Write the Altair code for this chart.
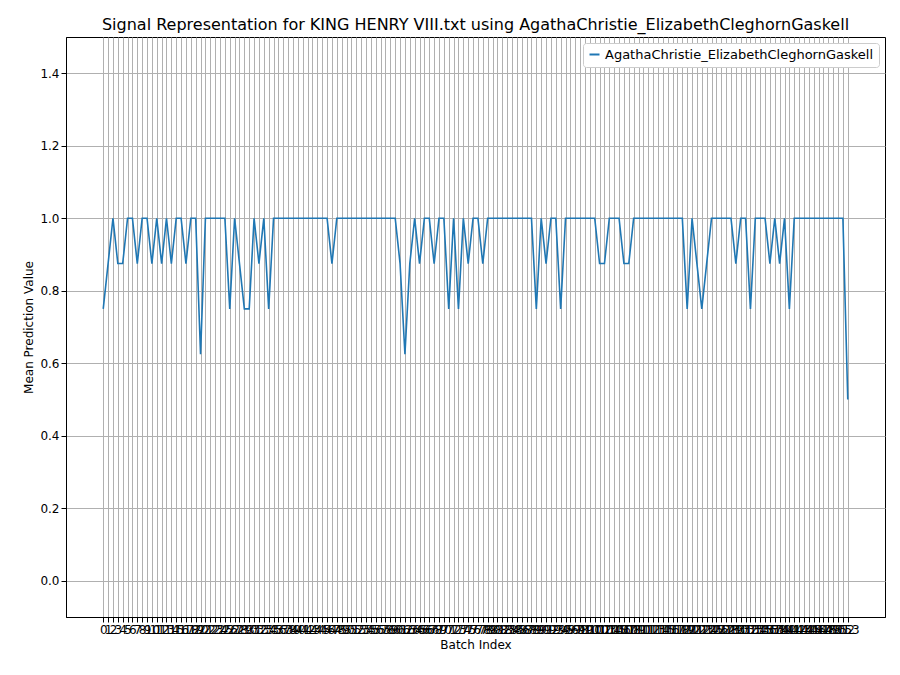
import altair as alt
import pandas as pd

F = 1.0; S = 0.875; T = 0.75; Q = 0.625
values = [T, S, F, S, S, F, F, S, F, F,   # 0-9
          S, F, S, F, S, F, F, S, F, F,   # 10-19
          Q, F, F, F, F, F, T, F, S, T,   # 20-29
          T, F, S, F, T] + [F]*12 + [S] + [F]*13 + \
         [S, Q, S, F, S, F, F, S, F, F,   # 61-70
          T, F, T, F, S, F, F, S] + [F]*10 + \
         [T, F, S, F, F, T] + [F]*7 + \
         [S, S, F, F, F, S, S] + [F]*11 + \
         [T, F, S, T, S] + [F]*5 + \
         [S, F, F, T, F, F, F, S, F, S, F, T] + [F]*11 + [0.5]
idx = list(range(len(values)))
series = "AgathaChristie_ElizabethCleghornGaskell"
df = pd.DataFrame({"Batch Index": idx, "Mean Prediction Value": values, "s": series})

chart = alt.Chart(df).mark_line(strokeWidth=1.6).encode(
    x=alt.X("Batch Index:Q", scale=alt.Scale(domain=[-7.65, 160.65], nice=False, zero=False),
            axis=alt.Axis(values=idx, labelOverlap=False, labelAngle=0, grid=True,
                          labelFlush=False)),
    y=alt.Y("Mean Prediction Value:Q", scale=alt.Scale(domain=[-0.1, 1.5], nice=False),
            axis=alt.Axis(values=[0, 0.2, 0.4, 0.6, 0.8, 1.0, 1.2, 1.4], format=".1f", grid=True)),
    color=alt.Color("s:N", scale=alt.Scale(range=["#1f77b4"]),
                    legend=alt.Legend(title=None, orient="top-right", symbolType="stroke",
                                      symbolStrokeWidth=2, labelFontSize=13, labelLimit=0,
                                      fillColor="white", offset=6,
                                      strokeColor="#cccccc", padding=5, cornerRadius=3)),
).properties(
    width=819, height=580,
    padding={"left": 14, "top": 9, "right": 5, "bottom": 5},
    title=alt.Title(f"Signal Representation for KING HENRY VIII.txt using {series}",
                    fontSize=16, fontWeight="normal"),
).configure(font="DejaVu Sans").configure_axis(
    gridColor="#b0b0b0", gridOpacity=1, domainColor="black", tickColor="black",
    labelFontSize=12, titleFontSize=12, titleFontWeight="normal", labelColor="black", titleColor="black"
).configure_view(stroke="black")

chart.save("out.html", embed_options={"renderer": "svg", "actions": False})
